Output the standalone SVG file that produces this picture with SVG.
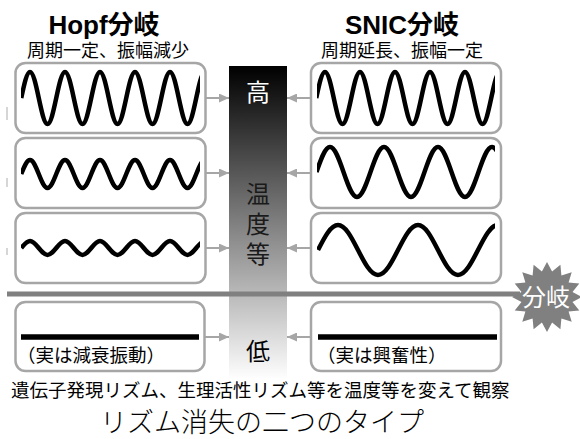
<svg xmlns="http://www.w3.org/2000/svg" xmlns:xlink="http://www.w3.org/1999/xlink" width="580" height="439" viewBox="0 0 580 439">
<style>
.box{fill:#fff;stroke:#a6a6a6;stroke-width:2.5}
.wave{fill:none;stroke:#000;stroke-width:4.5}
.arr{stroke:#a6a6a6;stroke-width:2;fill:none}
.jp{font-family:"Noto Sans CJK JP","Liberation Sans",sans-serif}
.head{font-family:"Liberation Sans","Noto Sans CJK JP",sans-serif;font-weight:bold;font-size:26px;text-anchor:middle}
.sub{font-size:18px;text-anchor:middle}
.tick{stroke:#c8c8c8;stroke-width:1.5}
</style>
<defs>
<linearGradient id="gbar" x1="0" y1="66" x2="0" y2="380" gradientUnits="userSpaceOnUse">
<stop offset="0" stop-color="#000"/>
<stop offset="1" stop-color="#fff"/>
</linearGradient>
<marker id="ah" markerUnits="userSpaceOnUse" markerWidth="10" markerHeight="9" refX="10" refY="4.5" orient="auto">
<path d="M0 0 L10 4.5 L0 9 Z" fill="#a6a6a6"/>
</marker>
<path id="w" vector-effect="non-scaling-stroke" d="M0 0 C0.3261 -0.5123 0.6381 -1 1 -1 S1.6739 -0.5123 2 0 S2.6381 1 3 1 S3.6739 0.5123 4 0 S4.6381 -1 5 -1 S5.6739 -0.5123 6 0 S6.6381 1 7 1 S7.6739 0.5123 8 0 S8.6381 -1 9 -1 S9.6739 -0.5123 10 0 S10.6381 1 11 1 S11.6739 0.5123 12 0 S12.6381 -1 13 -1 S13.6739 -0.5123 14 0 S14.6381 1 15 1 S15.6739 0.5123 16 0 S16.6381 -1 17 -1 S17.6739 -0.5123 18 0 S18.6381 1 19 1 S19.6739 0.5123 20 0 S20.6381 -1 21 -1 S21.6739 -0.5123 22 0 S22.6381 1 23 1 S23.6739 0.5123 24 0"/>
<clipPath id="cl"><rect x="21" y="60" width="179" height="230"/></clipPath>
<clipPath id="cr"><rect x="317" y="60" width="178" height="230"/></clipPath>
</defs>

<g id="artifacts">
<line class="tick" x1="7" y1="107" x2="7" y2="120"/>
<line class="tick" x1="7" y1="178" x2="7" y2="187"/>
<line class="tick" x1="7" y1="248" x2="7" y2="255"/>
</g>

<g id="title-hopf">
<text class="head" x="104" y="34">Hopf分岐</text>
<text class="jp sub" x="108" y="57">周期一定、振幅減少</text>
</g>
<g id="title-snic">
<text class="head" x="402" y="34">SNIC分岐</text>
<text class="jp sub" x="402" y="57">周期延長、振幅一定</text>
</g>

<g id="temp-bar">
<rect x="229" y="66" width="58" height="312" fill="url(#gbar)"/>
<text class="jp" x="258" y="101" font-size="24" fill="#fff" text-anchor="middle">高</text>
<text class="jp" x="258" y="182" font-size="24" fill="#1a1a1a" writing-mode="tb" letter-spacing="6">温度等</text>
<text class="jp" x="258" y="360" font-size="24" fill="#000" text-anchor="middle">低</text>
</g>

<g id="bifurcation-line">
<line x1="7" y1="294" x2="520" y2="294" stroke="#808080" stroke-width="5"/>
</g>

<g id="hopf-1">
<rect class="box" x="15.5" y="63" width="190" height="70" rx="10"/>
<g clip-path="url(#cl)"><use xlink:href="#w" class="wave" transform="translate(21.25,98) scale(8.75,26)"/></g>
</g>
<g id="hopf-2">
<rect class="box" x="15.5" y="138" width="190" height="70" rx="10"/>
<g clip-path="url(#cl)"><use xlink:href="#w" class="wave" transform="translate(21.25,174) scale(8.75,14)"/></g>
</g>
<g id="hopf-3">
<rect class="box" x="15.5" y="213" width="190" height="70" rx="10"/>
<g clip-path="url(#cl)"><use xlink:href="#w" class="wave" transform="translate(21.25,248) scale(8.75,7)"/></g>
</g>
<g id="hopf-4">
<rect class="box" x="15.5" y="302" width="189" height="69" rx="10"/>
<line x1="21" y1="337" x2="199" y2="337" stroke="#000" stroke-width="5.5"/>
<text class="jp" x="17" y="362" font-size="18.5">（実は減衰振動）</text>
</g>

<g id="snic-1">
<rect class="box" x="311" y="63" width="190" height="70" rx="10"/>
<g clip-path="url(#cr)"><use xlink:href="#w" class="wave" transform="translate(316.25,98) scale(8.75,26)"/></g>
</g>
<g id="snic-2">
<rect class="box" x="311" y="138" width="190" height="70" rx="10"/>
<g clip-path="url(#cr)"><use xlink:href="#w" class="wave" transform="translate(316.5,172) scale(13.5,25)"/></g>
</g>
<g id="snic-3">
<rect class="box" x="311" y="213" width="190" height="70" rx="10"/>
<g clip-path="url(#cr)"><use xlink:href="#w" class="wave" transform="translate(318,250) scale(20,25)"/></g>
</g>
<g id="snic-4">
<rect class="box" x="311" y="302" width="190" height="69" rx="10"/>
<line x1="318" y1="337" x2="497" y2="337" stroke="#000" stroke-width="5.5"/>
<text class="jp" x="317" y="362" font-size="18.5">（実は興奮性）</text>
</g>

<g id="connectors">
<line class="arr" x1="206" y1="98" x2="229" y2="98" marker-end="url(#ah)"/>
<line class="arr" x1="206" y1="173" x2="229" y2="173" marker-end="url(#ah)"/>
<line class="arr" x1="206" y1="248" x2="229" y2="248" marker-end="url(#ah)"/>
<line class="arr" x1="205" y1="337" x2="229" y2="337" marker-end="url(#ah)"/>
<line class="arr" x1="310" y1="98" x2="287" y2="98" marker-end="url(#ah)"/>
<line class="arr" x1="310" y1="173" x2="287" y2="173" marker-end="url(#ah)"/>
<line class="arr" x1="310" y1="248" x2="287" y2="248" marker-end="url(#ah)"/>
<line class="arr" x1="310" y1="337" x2="287" y2="337" marker-end="url(#ah)"/>
</g>

<g id="bifurcation-badge">
<polygon fill="#808080" points="547,262 552.1,271.5 560.4,264.7 561.4,275.4 571.7,272.3 568.6,282.6 579.3,283.6 572.5,291.9 582,297 572.5,302.1 579.3,310.4 568.6,311.4 571.7,321.7 561.4,318.6 560.4,329.3 552.1,322.5 547,332 541.9,322.5 533.6,329.3 532.6,318.6 522.3,321.7 525.4,311.4 514.7,310.4 521.5,302.1 512,297 521.5,291.9 514.7,283.6 525.4,282.6 522.3,272.3 532.6,275.4 533.6,264.7 541.9,271.5"/>
<text class="jp" x="546" y="306" font-size="24" fill="#fff" text-anchor="middle">分岐</text>
</g>

<g id="caption">
<text class="jp" x="11" y="397" font-size="18.5">遺伝子発現リズム、生理活性リズム等を温度等を変えて観察</text>
<text class="jp" x="262" y="432" font-size="27" font-weight="300" text-anchor="middle">リズム消失の二つのタイプ</text>
</g>
</svg>
